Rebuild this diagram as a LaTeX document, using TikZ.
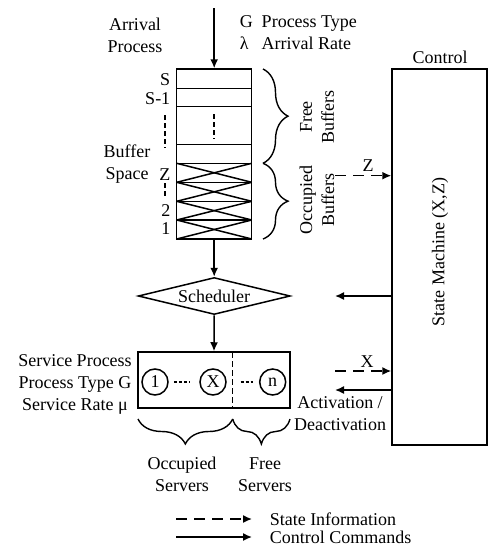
\documentclass[tikz,border=0pt]{standalone}
\usepackage{fontspec}
\setmainfont{Liberation Serif}
\usetikzlibrary{shapes.geometric, decorations.pathreplacing, arrows.meta}

\tikzset{
    arr/.style={-{Latex[length=9pt,width=8pt]}, line width=1.5pt},
    darr/.style={arr, dash pattern=on 11pt off 7pt},
    brc/.style={decorate, decoration={brace, amplitude=25pt}, line width=1.4pt},
    txt/.style={font=\fontsize{18}{22}\selectfont, inner sep=0pt, align=center},
    srvc/.style={draw, circle, minimum size=26pt, inner sep=0pt, font=\fontsize{18}{22}\selectfont},
}

\begin{document}
\begin{tikzpicture}[x=1pt, y=-1pt, line width=1.5pt]
    \useasboundingbox (0,0) rectangle (488,549);

    % Buffer
    \node[draw, minimum width=75pt, minimum height=170pt, inner sep=0pt] (buf) at (214.2,154) {};
    \foreach \y in {88.3, 106.7, 144.3, 163.3, 182.3, 201.3, 220}
        \draw (176.7,\y) -- (251.7,\y);
    \foreach \a/\b in {163.3/182.3, 182.3/201.3, 201.3/220, 220/239} {
        \draw (176.7,\a) -- (251.7,\b);
        \draw (176.7,\b) -- (251.7,\a);
    }
    \draw[dash pattern=on 5pt off 3pt] (214.2,114) -- (214.2,139);
    \draw[dash pattern=on 5pt off 3pt] (165,115) -- (165,148);
    \draw[dash pattern=on 5pt off 3pt] (165,183) -- (165,198);
    \node[txt, anchor=east] (ls) at (171,80) {S};
    \node[txt, anchor=east] (ls1) at (171,99) {S-1};
    \node[txt, anchor=east] (lz) at (171,175) {Z};
    \node[txt, anchor=east] (l2) at (171,211) {2};
    \node[txt, anchor=east] (l1) at (171,229) {1};
    \node[txt] (bspace) at (127,164) {Buffer\\Space};

    % Arrival
    \coordinate (arrin) at (214.2,8);
    \draw[arr] (arrin) -- (buf.north);
    \node[txt] (arrival) at (135,35.5) {Arrival\\Process};
    \node[txt, anchor=west] (gtype) at (239,34) {\begin{tabular}{@{}l@{\hspace{9pt}}l@{}}G & Process Type\\λ & Arrival Rate\end{tabular}};

    % Braces for buffers
    \draw[brc] (263,69) -- (263,163.3);
    \draw[brc] (263,163.3) -- (263,239);
    \node[txt, rotate=90] (freeb) at (317,117) {Free\\Buffers};
    \node[txt, rotate=90] (occb) at (317,200) {Occupied\\Buffers};

    % Scheduler
    \node[draw, diamond, aspect=4, minimum width=152pt, minimum height=37pt, inner sep=0pt, font=\fontsize{18}{22}\selectfont] (sched) at (214.2,296) {Scheduler};
    \draw[arr] (buf.south) -- (sched.north);

    % Servers
    \node[draw, minimum width=152pt, minimum height=56pt, inner sep=0pt] (srv) at (214,380) {};
    \draw[arr] (sched.south) -- (srv.north);
    \draw[dash pattern=on 6pt off 3pt] (232.7,352) -- (232.7,408);
    \node[srvc] (s1) at (155,382) {1};
    \node[srvc] (sx) at (213,382) {X};
    \node[srvc] (sn) at (272.7,382) {n};
    \draw[line width=1.1pt, dash pattern=on 3pt off 2pt, shorten <=5pt, shorten >=9pt] (s1) -- (sx);
    \draw[line width=1.1pt, dash pattern=on 3pt off 2pt, shorten <=8pt, shorten >=6pt] (232.7,382) -- (sn);
    \node[txt] (srvlbl) at (75,384) {Service Process\\Process Type G\\Service Rate μ};

    % Braces for servers
    \draw[brc] (232.7,419) -- (138,419);
    \draw[brc] (290,419) -- (232.7,419);
    \node[txt] (occs) at (182,474.5) {Occupied\\Servers};
    \node[txt] (frees) at (265,474.5) {Free\\Servers};

    % Control
    \node[draw, minimum width=95pt, minimum height=376pt, inner sep=0pt] (ctrl) at (439.5,257) {};
    \node[txt] (ctrllbl) at (440,57) {Control};
    \node[txt, rotate=90] (sm) at (440,252) {State Machine (X,Z)};

    \coordinate (zout) at (335,175.7);
    \draw[darr] (zout) -- (ctrl.west |- zout);
    \node[txt] (zlbl) at (368,166) {Z};
    \coordinate (schedin) at (335,296);
    \draw[arr] (ctrl.west |- schedin) -- (schedin);
    \coordinate (xout) at (335,371);
    \draw[darr] (xout) -- (ctrl.west |- xout);
    \node[txt] (xlbl) at (367,362) {X};
    \coordinate (actin) at (335,390);
    \draw[arr] (ctrl.west |- actin) -- (actin);
    \node[txt] (act) at (340,414) {Activation /\\Deactivation};

    % Legend
    \coordinate (lega) at (176,519);
    \coordinate (legb) at (252,519);
    \coordinate (legc) at (176,537);
    \coordinate (legd) at (252,537);
    \draw[darr] (lega) -- (legb);
    \draw[arr] (legc) -- (legd);
    \node[txt, anchor=west] (legi) at (269,519) {State Information};
    \node[txt, anchor=west] (legcc) at (269,537) {Control Commands};
\end{tikzpicture}
\end{document}
